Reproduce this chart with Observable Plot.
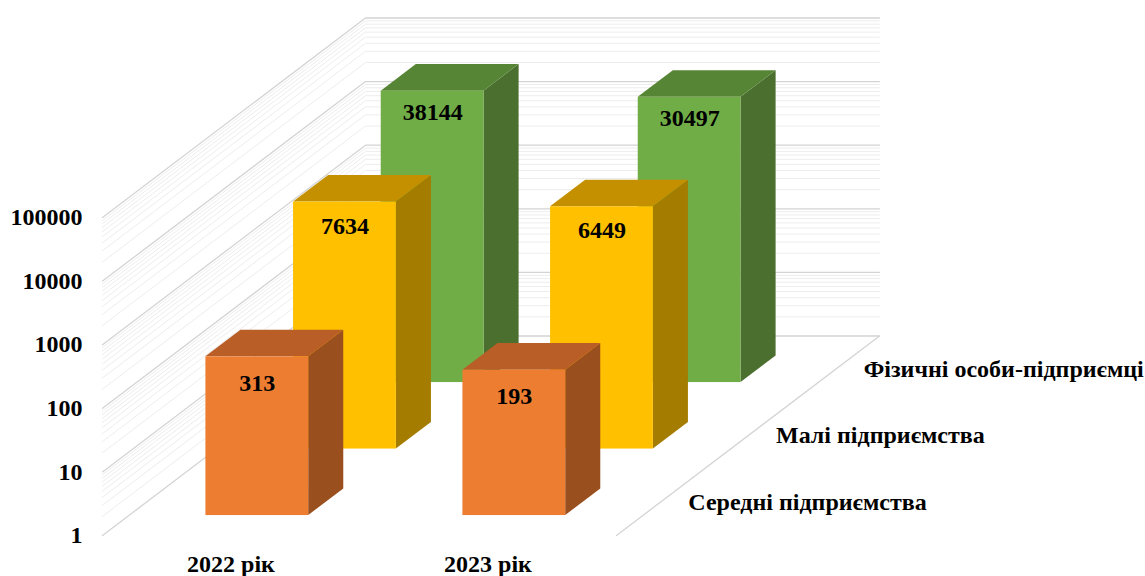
<!DOCTYPE html>
<html><head><meta charset="utf-8">
<script src="https://cdn.jsdelivr.net/npm/d3@7"></script>
<script src="https://cdn.jsdelivr.net/npm/@observablehq/plot@0.6"></script>
<style>body{margin:0;background:#fff}</style>
</head><body><div id="chart"></div>
<script>
// ---- data ----
const years = ["2022 рік", "2023 рік"];
const seriesNames = ["Середні підприємства", "Малі підприємства", "Фізичні особи-підприємці"];
const mediumValues = [313, 193];
const smallValues = [7634, 6449];
const individualValues = [38144, 30497];
const yTicks = [1, 10, 100, 1000, 10000, 100000];

// ---- styles ----
const seriesValues = [mediumValues, smallValues, individualValues];
const frontColors = ["#ED7D31", "#FFC000", "#70AD47"];
const topColors = ["#B95E27", "#C49000", "#578536"];
const sideColors = ["#9A4F1E", "#A47C00", "#4A6F2E"];
const labelOffsets = [26, 24, 21];
const FONT = "Liberation Serif, Times New Roman, serif";
const textStyle = {fontSize: 24, fontWeight: "bold", fontFamily: FONT, fill: "black"};

// oblique 3D projection: depth shifts x (category units) and y (decades)
const DEPTH_X = 0.3411;
const DEPTH_Y = 1.0456;
const ROWS = 3;
const BAR_W = 0.4, BAR_D = 0.4;
const lift = z => 10 ** (z * DEPTH_Y);
const px = (i, z) => i + z * DEPTH_X;

const bars = [];
seriesValues.forEach((vals, s) => vals.forEach((v, c) => {
  const z0 = s + (1 - BAR_D) / 2, z1 = z0 + BAR_D;
  const xl = c + (1 - BAR_W) / 2, xr = xl + BAR_W;
  bars.push({s, c, v, z0, z1, xl, xr, id: s * 10 + c});
}));

const fronts = bars.map(b => ({s: b.s, x1: px(b.xl, b.z0), x2: px(b.xr, b.z0), y1: lift(b.z0), y2: b.v * lift(b.z0)}));
const sides = bars.flatMap(b => [
  {s: b.s, id: b.id, x: px(b.xr, b.z0), y1: lift(b.z0), y2: b.v * lift(b.z0)},
  {s: b.s, id: b.id, x: px(b.xr, b.z1), y1: lift(b.z1), y2: b.v * lift(b.z1)}
]);
const tops = bars.flatMap(b => [
  {s: b.s, id: b.id, y: b.v * lift(b.z0), x1: px(b.xl, b.z0), x2: px(b.xr, b.z0)},
  {s: b.s, id: b.id, y: b.v * lift(b.z1), x1: px(b.xl, b.z1), x2: px(b.xr, b.z1)}
]);
const labels = bars.map(b => ({s: b.s, v: b.v, x: px((b.xl + b.xr) / 2, b.z0), y: b.v * lift(b.z0)}));

// grid lines on left and back walls
const grid = [];
for (let e = 0; e <= 5; e++) {
  const ms = e < 5 ? [1,2,3,4,5,6,7,8,9] : [1];
  for (const m of ms) {
    const g = m * 10 ** e;
    const major = m === 1;
    grid.push({g, major, x: 0, y: g});
    grid.push({g, major, x: px(0, ROWS), y: g * lift(ROWS)});
    grid.push({g, major, x: px(years.length, ROWS), y: g * lift(ROWS)});
  }
}
const floorEdge = [{x: years.length, y: 1}, {x: px(years.length, ROWS), y: lift(ROWS)}];

const marks = [
  Plot.line(grid.filter(d => !d.major), {x: "x", y: "y", z: "g", stroke: "#ededed", strokeWidth: 1}),
  Plot.line(grid.filter(d => d.major), {x: "x", y: "y", z: "g", stroke: "#d4d4d4", strokeWidth: 1.3}),
  Plot.line(floorEdge, {x: "x", y: "y", stroke: "#d4d4d4", strokeWidth: 1.3})
];
for (let s = ROWS - 1; s >= 0; s--) {
  marks.push(Plot.areaY(sides.filter(d => d.s === s), {x: "x", y1: "y1", y2: "y2", z: "id", fill: sideColors[s]}));
  marks.push(Plot.areaX(tops.filter(d => d.s === s), {y: "y", x1: "x1", x2: "x2", z: "id", fill: topColors[s]}));
  marks.push(Plot.rect(fronts.filter(d => d.s === s), {x1: "x1", x2: "x2", y1: "y1", y2: "y2", fill: frontColors[s]}));
}
for (let s = 0; s < ROWS; s++) {
  marks.push(Plot.text(labels.filter(d => d.s === s), {x: "x", y: "y", text: d => String(d.v), dy: labelOffsets[s], ...textStyle}));
}
marks.push(Plot.text(seriesNames, {x: (d, i) => px(years.length, i + 0.5), y: (d, i) => lift(i + 0.5), text: d => d,
  textAnchor: "start", dx: 28, ...textStyle}));
marks.push(Plot.axisY({ticks: yTicks, tickFormat: d => String(d), tickSize: 0, tickPadding: 20, ...textStyle}));
marks.push(Plot.axisX({ticks: years.map((d, i) => i + 0.5), tickFormat: d => years[Math.floor(d)], tickSize: 0, tickPadding: 19, ...textStyle}));

const chart = Plot.plot({
  width: 1145,
  height: 576,
  marginLeft: 102,
  marginRight: 266,
  marginTop: 17.5,
  marginBottom: 41,
  x: {domain: [0, px(years.length, ROWS)]},
  y: {type: "log", domain: [1, 10 ** (5 + ROWS * DEPTH_Y)]},
  style: "font-family: 'Liberation Serif', 'Times New Roman', serif; font-size: 24px; font-weight: bold; color: black; background: white; overflow: visible;",
  marks
});
document.getElementById("chart").appendChild(chart);
</script>
</body></html>
